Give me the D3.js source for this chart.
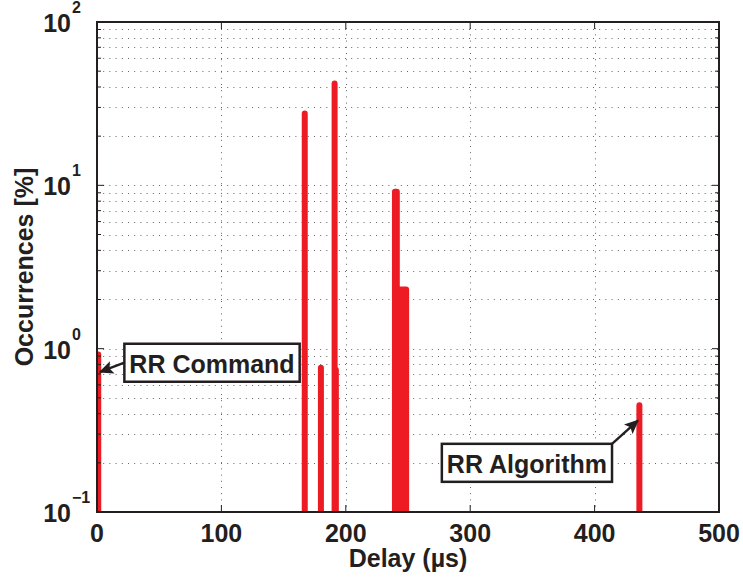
<!DOCTYPE html>
<html>
<head>
<meta charset="utf-8">
<script src="https://cdn.jsdelivr.net/npm/d3@7"></script>
<style>
  body { margin: 0; background: #fff; }
  .main { width: 743px; height: 577px; }
  text { font-family: "Liberation Sans", Arial, Helvetica, sans-serif; font-weight: bold; fill: #231f20; }
</style>
</head>
<body>
<div class="main"></div>
<script>
// delay bins (µs); a bin with start != end is a solid block
const binStart = [1, 167, 180, 191, 192, 239.5, 241, 436]
const binEnd = [1, 167, 180, 191, 192, 241, 248.5, 436]
const occurrence = [0.92, 27.5, 0.765, 42, 0.74, 9.15, 2.3, 0.45]

const xTicks = [0, 100, 200, 300, 400, 500]
const yDecades = [-1, 0, 1, 2]

const notes = [
  { text: "RR Command", tipX: 2.5, tipY: 0.72, boxX: 22, boxY: 0.82, side: "left" },
  { text: "RR Algorithm", tipX: 434.8, tipY: 0.363, boxX: 414, boxY: 0.2, side: "right" }
]

const margin = { top: 22, right: 24, bottom: 65, left: 97 },
    width = 743 - margin.left - margin.right,
    height = 577 - margin.top - margin.bottom;

const svg = d3.select(".main")
    .append("svg")
    .attr("width", 743)
    .attr("height", 577)
    .append("g")
    .attr("transform", `translate(${margin.left}, ${margin.top})`)

const x = d3.scaleLinear().domain([0, 500]).range([0, width])
const y = d3.scaleLog().domain([0.1, 100]).range([height, 0])

// all log ticks: majors + minors 2..9
const yMajor = yDecades.map(e => Math.pow(10, e))
const yMinor = []
yDecades.slice(0, -1).forEach(e => {
    for (let k = 2; k <= 9; k++) yMinor.push(k * Math.pow(10, e))
})

// dotted grid
const grid = svg.append("g").attr("stroke", "#333").attr("stroke-width", 1)
    .attr("stroke-dasharray", "1,5.2").attr("fill", "none")
grid.selectAll("line.h")
    .data(yMajor.concat(yMinor))
    .join("line")
    .attr("x1", 0).attr("x2", width)
    .attr("y1", d => Math.round(y(d)) + 0.5).attr("y2", d => Math.round(y(d)) + 0.5)
    .attr("opacity", 0.75)
grid.selectAll("line.v")
    .data(xTicks.slice(1, -1))
    .join("line")
    .attr("x1", d => Math.round(x(d)) + 0.5).attr("x2", d => Math.round(x(d)) + 0.5)
    .attr("y1", 0).attr("y2", height)
    .attr("opacity", 0.75)

// bars
svg.append("clipPath").attr("id", "plot-clip")
    .append("rect").attr("width", width).attr("height", height)

const bins = binStart.map((s, i) => ({ s, e: binEnd[i], v: occurrence[i] }))
svg.append("g")
    .attr("clip-path", "url(#plot-clip)")
    .selectAll("path")
    .data(bins)
    .join("path")
    .attr("d", d => `M${x(d.s)},${height + 10}L${x(d.s)},${y(d.v)}L${x(d.e)},${y(d.v)}L${x(d.e)},${height + 10}Z`)
    .attr("fill", "#ed1c24")
    .attr("stroke", "#ed1c24")
    .attr("stroke-width", 6)
    .attr("stroke-linejoin", "round")

// ticks (inward, on all four sides)
const ticks = svg.append("g").attr("stroke", "#231f20").attr("stroke-width", 1)
xTicks.forEach(t => {
    ticks.append("line").attr("x1", x(t)).attr("x2", x(t)).attr("y1", height).attr("y2", height - 7)
    ticks.append("line").attr("x1", x(t)).attr("x2", x(t)).attr("y1", 0).attr("y2", 7)
})
yMajor.concat(yMinor).forEach(t => {
    const len = yMajor.includes(t) ? 7 : 4
    ticks.append("line").attr("x1", 0).attr("x2", len).attr("y1", y(t)).attr("y2", y(t))
    ticks.append("line").attr("x1", width).attr("x2", width - len).attr("y1", y(t)).attr("y2", y(t))
})

// frame
svg.append("rect")
    .attr("width", width).attr("height", height)
    .attr("fill", "none").attr("stroke", "#231f20").attr("stroke-width", 2)

// x tick labels
svg.selectAll("text.xt")
    .data(xTicks)
    .join("text")
    .attr("x", d => x(d))
    .attr("y", height + 30)
    .attr("text-anchor", "middle")
    .attr("font-size", 25)
    .text(d => d)

// y tick labels: 10 with superscript exponent
svg.selectAll("text.yt")
    .data(yDecades)
    .join("text")
    .attr("x", -26)
    .attr("y", d => y(Math.pow(10, d)) + 10)
    .attr("text-anchor", "end")
    .attr("font-size", 25)
    .text("10")
svg.selectAll("text.ye")
    .data(yDecades)
    .join("text")
    .attr("x", -25)
    .attr("y", d => y(Math.pow(10, d)) - 9)
    .attr("font-size", 16)
    .text(d => d < 0 ? "\u2212" + (-d) : d)

// axis labels
svg.append("text")
    .attr("x", width / 2)
    .attr("y", height + 55)
    .attr("text-anchor", "middle")
    .attr("font-size", 25)
    .text("Delay (\u00b5s)")

svg.append("text")
    .attr("transform", `translate(${-64}, ${height / 2}) rotate(-90)`)
    .attr("text-anchor", "middle")
    .attr("font-size", 25)
    .text("Occurrences [%]")

// annotations
svg.append("defs").append("marker")
    .attr("id", "arrow")
    .attr("viewBox", "0 0 10 10")
    .attr("refX", 9).attr("refY", 5)
    .attr("markerWidth", 6).attr("markerHeight", 6)
    .attr("markerUnits", "strokeWidth")
    .attr("orient", "auto")
    .append("path")
    .attr("d", "M0,0.5L10,5L0,9.5L2,5Z")
    .attr("fill", "#231f20")

notes.forEach(n => {
    const g = svg.append("g")
    const t = g.append("text")
        .attr("font-size", 25)
        .attr("dominant-baseline", "central")
        .text(n.text)
    const tw = t.node().getComputedTextLength()
    const pad = 5, bh = 38, bw = tw + 2 * pad
    const left = n.side === "left" ? x(n.boxX) : x(n.boxX) - bw
    const cy = y(n.boxY)
    t.attr("x", left + pad).attr("y", cy + 1)
    g.insert("rect", "text")
        .attr("x", left).attr("y", cy - bh / 2)
        .attr("width", bw).attr("height", bh)
        .attr("fill", "#fff").attr("stroke", "#231f20").attr("stroke-width", 2.5)
    const sx = n.side === "left" ? left : left + bw
    const sy = n.side === "left" ? cy : cy - bh / 2
    g.append("line")
        .attr("x1", sx).attr("y1", sy)
        .attr("x2", x(n.tipX)).attr("y2", y(n.tipY))
        .attr("stroke", "#231f20").attr("stroke-width", 2.4)
        .attr("marker-end", "url(#arrow)")
})
</script>
</body>
</html>
